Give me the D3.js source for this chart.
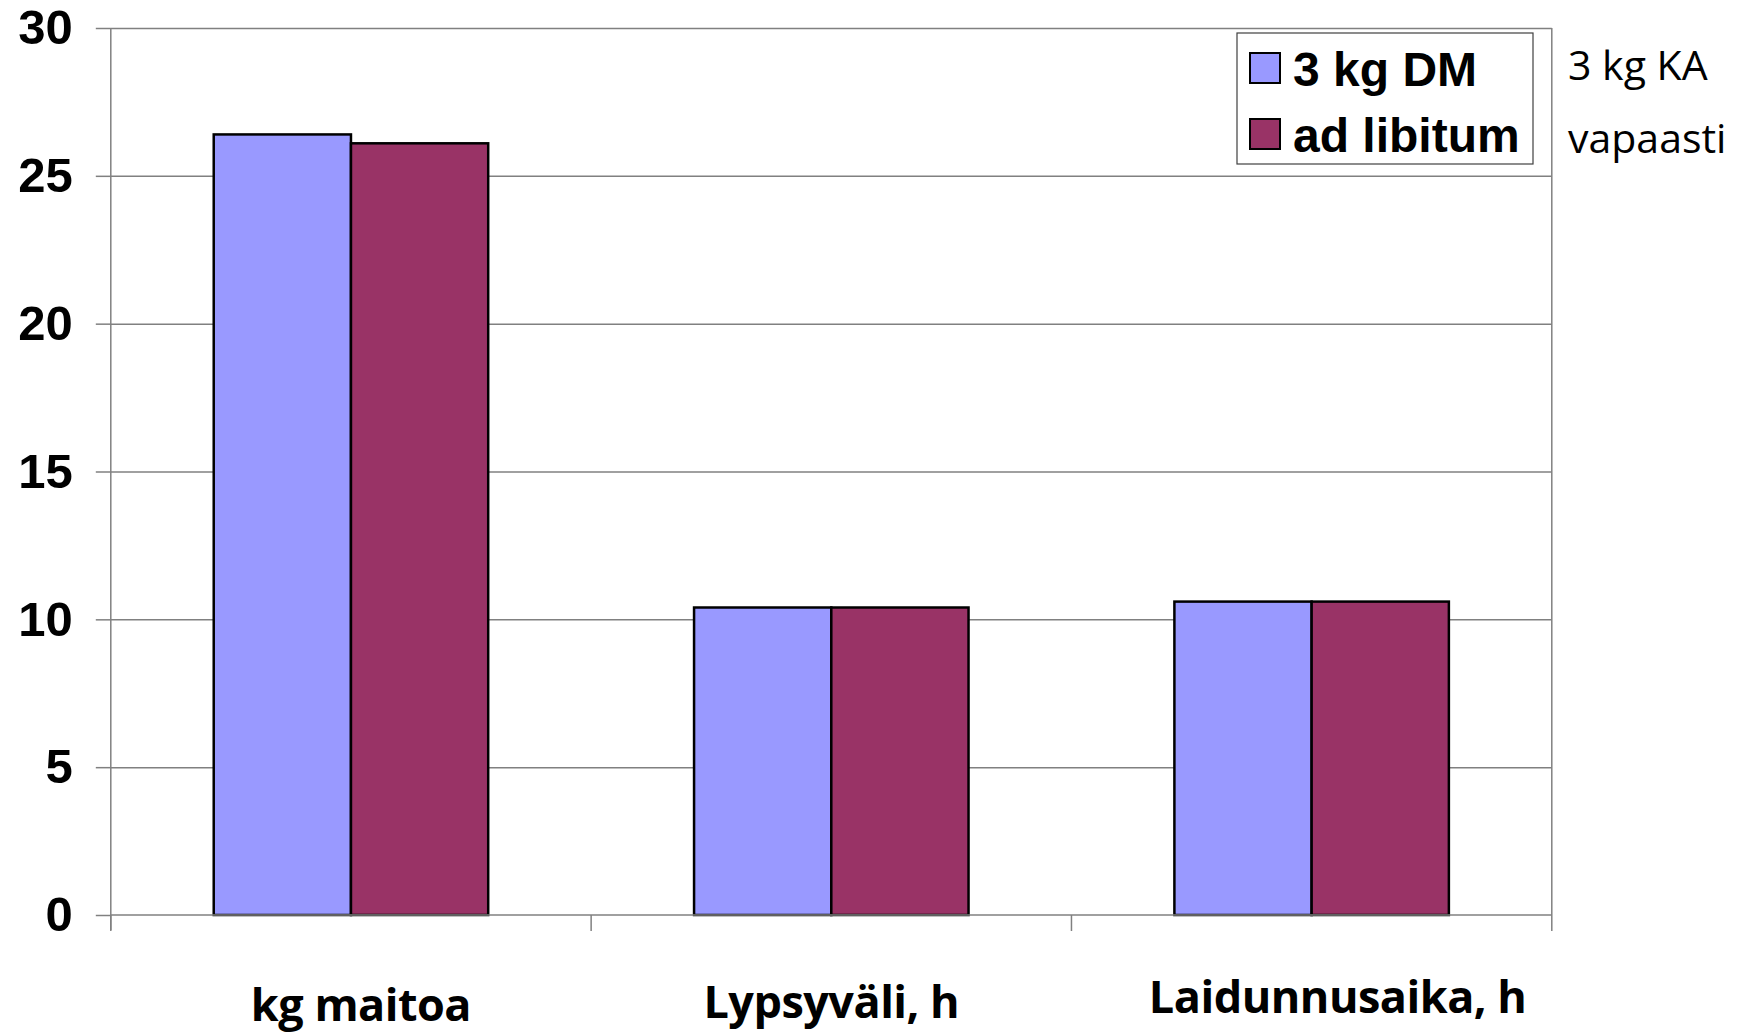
<!DOCTYPE html>
<html>
<head>
<meta charset="utf-8">
<script src="https://cdn.jsdelivr.net/npm/d3@7"></script>
<style>
  body { margin: 0; background: #fff; }
  svg { display: block; }
</style>
</head>
<body>
<div id="chart"></div>
<script>
window.addEventListener('DOMContentLoaded', function() {

  var categories = ['kg maitoa', 'Lypsyväli, h', 'Laidunnusaika, h'];
  var seriesNames = ['3 kg DM', 'ad libitum'];
  var dmValues = [26.4, 10.4, 10.6];
  var adlibValues = [26.1, 10.4, 10.6];
  var yTicks = [0, 5, 10, 15, 20, 25, 30];
  var sideNotes = ['3 kg KA', 'vapaasti'];

  var colors = ['#9999ff', '#993366'];
  var w = 1738, h = 1033;
  var left = 110.8, right = 1551.8, top = 28, bottom = 915;

  var svg = d3.select('#chart').append('svg')
              .attr('width', w)
              .attr('height', h);

  var x0 = d3.scaleBand().domain(categories).range([left, right]).paddingInner(0).paddingOuter(0);
  var x1 = d3.scaleBand().domain(seriesNames).range([0, x0.bandwidth()]).paddingInner(0).paddingOuter(0.75);
  var y = d3.scaleLinear().domain([0, 30]).range([bottom, top]);

  // gridlines
  svg.append('g')
     .attr('transform', `translate(${left},0)`)
     .call(d3.axisLeft(y).tickValues(yTicks.slice(1)).tickSize(-(right - left)).tickFormat(''))
     .call(g => g.select('.domain').remove())
     .call(g => g.selectAll('line').attr('stroke', '#808080').attr('stroke-width', 1.5));

  // right border of plot
  svg.append('line')
     .attr('x1', right).attr('x2', right)
     .attr('y1', top).attr('y2', bottom)
     .attr('stroke', '#808080').attr('stroke-width', 1.5);

  // bars
  var rows = categories.map((c, i) => ({ cat: c, vals: [dmValues[i], adlibValues[i]] }));
  var groups = svg.selectAll('.grp').data(rows).enter().append('g')
                  .attr('class', 'grp')
                  .attr('transform', d => `translate(${x0(d.cat)},0)`);
  groups.selectAll('rect')
        .data(d => d.vals.map((v, k) => ({ s: seriesNames[k], v: v, k: k })))
        .enter().append('rect')
        .attr('x', d => x1(d.s))
        .attr('y', d => y(d.v))
        .attr('width', x1.bandwidth())
        .attr('height', d => y(0) - y(d.v))
        .attr('fill', d => colors[d.k])
        .attr('stroke', '#000')
        .attr('stroke-width', 2.5);

  // y axis
  svg.append('g')
     .attr('transform', `translate(${left},0)`)
     .call(d3.axisLeft(y).tickValues(yTicks).tickSize(15).tickPadding(23))
     .call(g => g.select('.domain').attr('stroke', '#808080').attr('stroke-width', 1.5)
                 .attr('d', `M0,${top}V${bottom + 15}`))
     .call(g => g.selectAll('line').attr('stroke', '#808080').attr('stroke-width', 1.5))
     .call(g => g.selectAll('text')
                 .attr('fill', '#000')
                 .style('font-family', '"Liberation Sans", Arial, sans-serif')
                 .style('font-weight', 'bold')
                 .style('font-size', '49px'));

  // x axis line and boundary ticks
  svg.append('line')
     .attr('x1', left).attr('x2', right)
     .attr('y1', bottom).attr('y2', bottom)
     .attr('stroke', '#808080').attr('stroke-width', 1.5);
  var bounds = categories.map(c => x0(c)).concat([right]);
  svg.selectAll('.xtick').data(bounds).enter().append('line')
     .attr('class', 'xtick')
     .attr('x1', d => d).attr('x2', d => d)
     .attr('y1', bottom).attr('y2', bottom + 16)
     .attr('stroke', '#808080').attr('stroke-width', 1.5);

  // category labels (text boxes in the original sit slightly off-centre)
  var nudge = [[10, 0], [0, -3], [26, -8]];
  svg.selectAll('.cat').data(categories).enter().append('text')
     .attr('class', 'cat')
     .attr('x', (d, i) => x0(d) + x0.bandwidth() / 2 + nudge[i][0])
     .attr('y', (d, i) => 1021 + nudge[i][1])
     .attr('text-anchor', 'middle')
     .style('font-family', '"Open Sans", sans-serif')
     .style('font-weight', 'bold')
     .style('font-size', '45px')
     .style('letter-spacing', '-0.5px')
     .text(d => d);

  // legend
  var legend = svg.append('g').attr('transform', 'translate(1237,33)');
  legend.append('rect')
        .attr('width', 296).attr('height', 131)
        .attr('fill', '#fff').attr('stroke', '#404040').attr('stroke-width', 1.2);
  var items = legend.selectAll('.item').data(seriesNames).enter().append('g')
                    .attr('class', 'item')
                    .attr('transform', (d, i) => `translate(13,${20 + i * 66})`);
  items.append('rect')
       .attr('width', 30).attr('height', 30)
       .attr('fill', (d, i) => colors[i])
       .attr('stroke', '#000').attr('stroke-width', 2);
  items.append('text')
       .attr('x', 43).attr('y', 33)
       .style('font-family', '"Liberation Sans", Arial, sans-serif')
       .style('font-weight', 'bold')
       .style('font-size', '48px')
       .text(d => d);

  // side note
  svg.selectAll('.note').data(sideNotes).enter().append('text')
     .attr('class', 'note')
     .attr('x', 1568)
     .attr('y', (d, i) => 80 + i * 73)
     .style('font-family', '"Open Sans", sans-serif')
     .style('font-size', '41px')
     .text(d => d);

});
</script>
</body>
</html>
